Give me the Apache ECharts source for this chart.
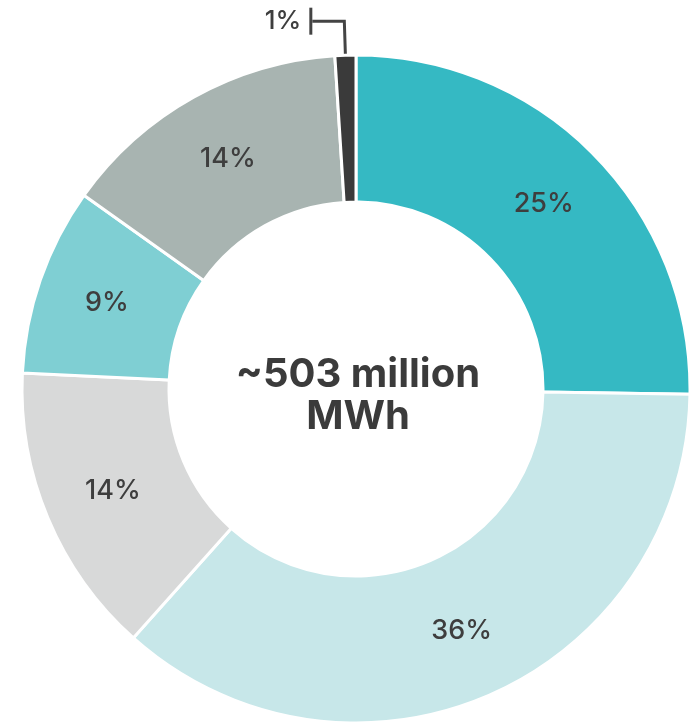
<!DOCTYPE html>
<html>
<head>
<meta charset="utf-8">
<script src="https://cdn.jsdelivr.net/npm/echarts@6/dist/echarts.min.js"></script>
<style>
  html, body { margin: 0; padding: 0; background: #ffffff; }
  #chart { width: 691px; height: 727px; }
</style>
</head>
<body>
<div id="chart"></div>
<script>
// Share of annual generation by source (percent), clockwise from 12 o'clock
const categories = ['A', 'B', 'C', 'D', 'E', 'F'];
const shares = [25, 36, 14, 9, 14, 1];
const sliceColors = ['#35b9c3', '#c7e7e9', '#d8d9d9', '#7fcfd3', '#a8b4b1', '#3a3a3a'];
const centerLines = ['~503 million', 'MWh'];

const FONT = 'Inter, "Noto Sans", sans-serif';
const LABEL_COLOR = '#3e3e3e';
const PIE_CENTER = [356, 389];

const pieData = categories.map((name, i) => {
  const item = {
    name: name,
    value: shares[i],
    itemStyle: { color: sliceColors[i] }
  };
  if (shares[i] < 3) {
    // Thin slice: value sits outside, on a bracketed leader line
    item.label = {
      show: true,
      position: 'outside',
      distanceToLabelLine: 0,
      formatter: '{t|' + shares[i] + '%}{bar|}',
      rich: {
        t: { fontSize: 26, fontWeight: 500, color: LABEL_COLOR, fontFamily: FONT, padding: [0, 8, 0, 0] },
        bar: { backgroundColor: '#444444', width: 3, height: 27 }
      }
    };
    item.labelLine = {
      show: true,
      length: 34,
      length2: 32,
      lineStyle: { color: '#444444', width: 3 }
    };
  }
  return item;
});

const chart = echarts.init(document.getElementById('chart'), null, { renderer: 'canvas' });
chart.setOption({
  backgroundColor: '#ffffff',
  animation: false,
  graphic: [{
    type: 'text',
    x: PIE_CENTER[0] + 2,
    y: 354,
    style: {
      text: centerLines.join('\n'),
      align: 'center',
      verticalAlign: 'top',
      fontSize: 40,
      fontWeight: 'bold',
      lineHeight: 42,
      fontFamily: FONT,
      fill: '#3b3b3b'
    }
  }],
  series: [{
    type: 'pie',
    center: PIE_CENTER,
    radius: [187, 334],
    startAngle: 90,
    clockwise: true,
    avoidLabelOverlap: false,
    itemStyle: { borderColor: '#ffffff', borderWidth: 3 },
    label: {
      show: true,
      position: 'inside',
      formatter: '{c}%',
      fontSize: 27,
      fontWeight: 500,
      color: LABEL_COLOR,
      fontFamily: FONT
    },
    labelLine: { show: false },
    emphasis: { disabled: true },
    data: pieData
  }]
});
</script>
</body>
</html>
